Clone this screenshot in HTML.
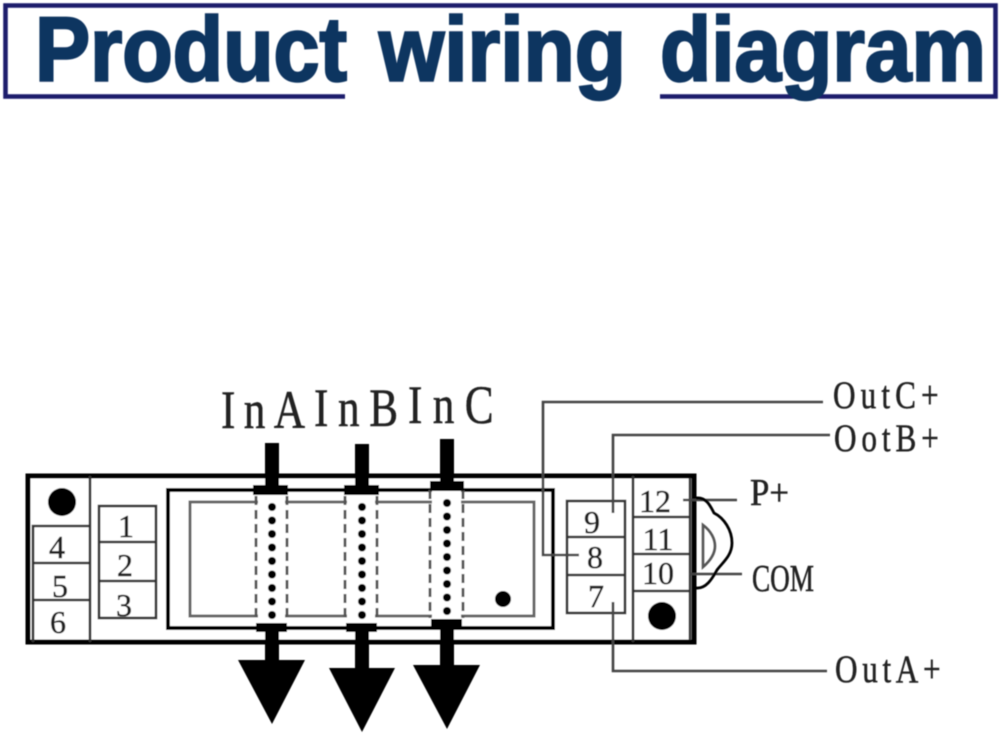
<!DOCTYPE html>
<html><head><meta charset="utf-8"><title>Product wiring diagram</title>
<style>html,body{margin:0;padding:0;background:#fff;width:1000px;height:736px;overflow:hidden}svg{display:block}
.s{font-family:"Liberation Serif",serif;fill:#222;stroke:#222;stroke-width:.5px}
.n{font-size:32px;text-anchor:middle}
.l{font-size:54px}
.o{font-size:39px}
.t{font-family:"Liberation Sans",sans-serif;font-weight:bold;font-size:91px;fill:#0f3460;stroke:#0f3460;stroke-width:2.4px}
</style></head><body>
<svg xmlns="http://www.w3.org/2000/svg" width="1000" height="736" viewBox="0 0 1000 736">
<defs>
<filter id="b" x="-2%" y="-2%" width="104%" height="104%"><feGaussianBlur stdDeviation="0.6"/></filter>
<g id="dots" fill="#000">
<circle cx="0" cy="0" r="4"/><circle cx="0" cy="13.500" r="4"/><circle cx="0" cy="27" r="4"/><circle cx="0" cy="40.500" r="4"/><circle cx="0" cy="54" r="4"/><circle cx="0" cy="67.500" r="4"/><circle cx="0" cy="81" r="4"/><circle cx="0" cy="94.500" r="4"/><circle cx="0" cy="108" r="4"/>
</g>
</defs>
<rect width="1000" height="736" fill="#fff"/>
<g filter="url(#b)">
<!-- title frame -->
<path d="M345 96.500H5.500V5.500H995.500V96.500H660" fill="none" stroke="#1c1c6c" stroke-width="4.500"/>
<text class="t" x="35" y="80.500" textLength="312" lengthAdjust="spacingAndGlyphs">Product</text>
<text class="t" x="379" y="80.500" textLength="247" lengthAdjust="spacingAndGlyphs">wiring</text>
<text class="t" x="660" y="80.500" textLength="326" lengthAdjust="spacingAndGlyphs">diagram</text>

<!-- housing -->
<rect x="28" y="476" width="666" height="166" fill="#fff" stroke="#000" stroke-width="5"/>
<g fill="none" stroke="#333" stroke-width="2.600">
<path d="M90 476V642"/>
<path d="M33 642V526H90M33 563H90M33 600H90"/>
<rect x="99" y="506" width="57" height="112"/>
<path d="M99 542H156M99 581H156"/>
<rect x="567" y="501" width="58" height="112"/>
<path d="M567 537H625M567 575H625"/>
<path d="M633 476V642M633 517H690M633 554H690M633 591H690M690 478V640"/>
</g>
<circle cx="62" cy="502" r="14" fill="#000"/>
<circle cx="662" cy="616" r="14" fill="#000"/>

<!-- display -->
<rect x="168" y="490" width="385" height="138" fill="#fff" stroke="#000" stroke-width="4"/>
<rect x="190" y="502" width="344" height="114" fill="#fff" stroke="#666" stroke-width="3"/>
<circle cx="503" cy="599" r="8" fill="#000"/>

<!-- wires -->
<g fill="none" stroke="#444" stroke-width="2.600">
<path d="M823 402H543V555H579"/>
<path d="M830 435H613V513"/>
<path d="M827 671H613V602"/>
<path d="M683 500H737"/>
<path d="M690 574H742"/>
<path d="M696 498C706 497 710 505 714 513C724 518 732 530 732 543C732 556 722 563 717 570C712 579 706 589 696 588" stroke="#000" stroke-width="2.800"/>
<path d="M703 525C711 531 715 539 715 546C715 554 710 561 703 567Z" stroke="#555"/>
</g>

<!-- channel A -->
<rect x="258" y="496" width="27" height="126" fill="#fff"/>
<path d="M256 496V622M287 496V622" stroke="#555" stroke-width="2.800" stroke-dasharray="9 5" fill="none"/>
<use href="#dots" x="272" y="507"/>
<path d="M265 443H279V485H288V495H253V485H265Z" fill="#000"/>
<path d="M256 623H287V632H279V660H305L272 724L238 660H265V632H256Z" fill="#000"/>

<!-- channel B -->
<rect x="347" y="496" width="28" height="126" fill="#fff"/>
<path d="M345 496V622M377 496V622" stroke="#555" stroke-width="2.800" stroke-dasharray="9 5" fill="none"/>
<use href="#dots" x="362" y="507"/>
<path d="M355 444H369V485H379V495H344V485H355Z" fill="#000"/>
<path d="M346 623H377V632H369V668H395L362 732L329 668H355V632H346Z" fill="#000"/>

<!-- channel C -->
<rect x="432" y="491" width="29" height="127" fill="#fff"/>
<path d="M430 490V618M463 490V618" stroke="#555" stroke-width="2.800" stroke-dasharray="9 5" fill="none"/>
<use href="#dots" x="447" y="503"/>
<path d="M440 439H454V481H464V491H430V481H440Z" fill="#000"/>
<path d="M431 619H462V628H454V665H480L447 729L413 665H440V628H431Z" fill="#000"/>

<!-- numbers -->
<text class="s n" x="126" y="537">1</text>
<text class="s n" x="125" y="576">2</text>
<text class="s n" x="124" y="616">3</text>
<text class="s n" x="57" y="558">4</text>
<text class="s n" x="60" y="597">5</text>
<text class="s n" x="58" y="633">6</text>
<text class="s n" x="592" y="533">9</text>
<text class="s n" x="595" y="568">8</text>
<text class="s n" x="596" y="607">7</text>
<text class="s n" x="655" y="512">12</text>
<text class="s n" x="658" y="550">11</text>
<text class="s n" x="658" y="584">10</text>

<!-- labels -->
<text class="s l" transform="translate(221 428) scale(.8 1)" textLength="105" lengthAdjust="spacing">InA</text>
<text class="s l" transform="translate(314 426) scale(.8 1)" textLength="105" lengthAdjust="spacing">InB</text>
<text class="s l" transform="translate(408 423) scale(.8 1)" textLength="107" lengthAdjust="spacing">InC</text>
<text class="s o" transform="translate(833 408) scale(.8 1)" textLength="132" lengthAdjust="spacing">OutC+</text>
<text class="s o" transform="translate(834 451) scale(.8 1)" textLength="131" lengthAdjust="spacing">OotB+</text>
<text class="s o" transform="translate(835 682) scale(.8 1)" textLength="132" lengthAdjust="spacing">OutA+</text>
<text class="s" font-size="38" x="750" y="505" textLength="39" lengthAdjust="spacingAndGlyphs">P+</text>
<text class="s" font-size="38" x="752" y="591" textLength="62" lengthAdjust="spacingAndGlyphs">COM</text>
</g>
</svg>
</body></html>
